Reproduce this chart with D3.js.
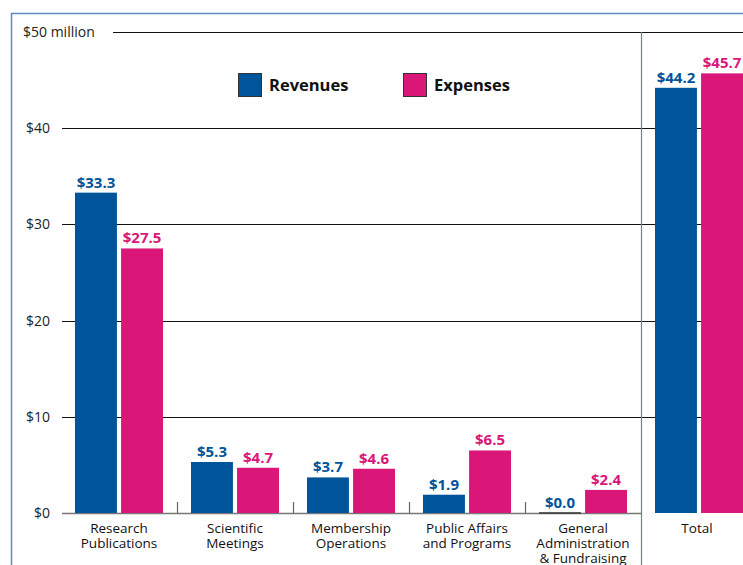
<!DOCTYPE html>
<html><head><meta charset="utf-8">
<script src="https://cdn.jsdelivr.net/npm/d3@7"></script>
<style>body{margin:0;background:#fff}svg{display:block}</style>
</head><body>
<svg id="c" width="743" height="565"></svg>
<script>
const categories = [["Research","Publications"],["Scientific","Meetings"],["Membership","Operations"],["Public Affairs","and Programs"],["General","Administration","& Fundraising"],["Total"]];
const revenues = [33.3, 5.3, 3.7, 1.9, 0.0, 44.2];
const expenses = [27.5, 4.7, 4.6, 6.5, 2.4, 45.7];
const yTicks = [0, 10, 20, 30, 40, 50];
const yTickLabels = ["$0", "$10", "$20", "$30", "$40", "$50 million"];
const seriesNames = ["Revenues", "Expenses"];
const colors = ["#005499", "#DA1679"];

const svg = d3.select("#c");
const font = "'Open Sans', 'Noto Sans', sans-serif";
const y = d3.scaleLinear().domain([0, 50]).range([513, 32]);
const x = d3.scaleBand().domain(d3.range(categories.length)).range([61, 757]).padding(0);
const inner = d3.scaleBand().domain([0,1]).range([0, 88]).paddingInner(0.09);
const groupOff = (x.bandwidth() - 88) / 2;

// outer frame
svg.append("path").attr("d", "M11.5,565 V13.5 H743").attr("fill", "none").attr("stroke", "#5b8cc0").attr("stroke-width", 1.5);

// gridlines + y labels
yTicks.forEach((t, i) => {
  if (t !== 0) {
    const x0 = (t === 50) ? 113 : 62;
    svg.append("line").attr("x1", x0).attr("x2", 743).attr("y1", Math.round(y(t)) + 0.5).attr("y2", Math.round(y(t)) + 0.5)
      .attr("stroke", "#111").attr("stroke-width", 1);
  }
  const lab = svg.append("text").attr("y", y(t) + 5).text(yTickLabels[i])
    .attr("font-family", font).attr("font-size", 14).attr("fill", "#222");
  if (t === 50) lab.attr("x", 23); else lab.attr("x", 50).attr("text-anchor", "end");
});

// total separator
svg.append("line").attr("x1", 641.5).attr("x2", 641.5).attr("y1", y(50)).attr("y2", 565).attr("stroke", "#5a86b5").attr("stroke-width", 1.2);

// baseline
svg.append("line").attr("x1", 62).attr("x2", 641).attr("y1", 513.5).attr("y2", 513.5).attr("stroke", "#777").attr("stroke-width", 1.5);
// separator ticks
for (let i = 1; i < categories.length - 1; i++) {
  svg.append("line").attr("x1", x(i) + 0.5).attr("x2", x(i) + 0.5).attr("y1", 502).attr("y2", 513).attr("stroke", "#666").attr("stroke-width", 1.2);
}

// bars
const series = [revenues, expenses];
series.forEach((vals, s) => {
  const g = svg.append("g");
  vals.forEach((v, i) => {
    const bx = x(i) + groupOff + inner(s);
    if (v === 0) {
      g.append("line").attr("x1", bx).attr("x2", bx + inner.bandwidth()).attr("y1", 513).attr("y2", 513).attr("stroke", "#333").attr("stroke-width", 1.5);
    } else {
      g.append("rect").attr("x", bx).attr("y", y(v)).attr("width", inner.bandwidth()).attr("height", y(0) - y(v)).attr("fill", colors[s]);
    }
    g.append("text").attr("x", bx + inner.bandwidth() / 2).attr("y", y(v) - 5)
      .attr("text-anchor", "middle").attr("font-family", font).attr("font-weight", "bold").attr("font-size", 15)
      .attr("fill", colors[s]).text("$" + v.toFixed(1));
  });
});

// category labels
categories.forEach((lines, i) => {
  const t = svg.append("text").attr("text-anchor", "middle").attr("font-family", font).attr("font-size", 13.5).attr("fill", "#111");
  lines.forEach((l, j) => {
    t.append("tspan").attr("x", x(i) + x.bandwidth() / 2 + (i === categories.length - 1 ? -2 : 0)).attr("y", 533 + j * 15).text(l);
  });
});

// legend
const legX = [238, 403];
seriesNames.forEach((n, s) => {
  svg.append("rect").attr("x", legX[s] + 0.5).attr("y", 73.5).attr("width", 23).attr("height", 23).attr("fill", colors[s]).attr("stroke", "#333").attr("stroke-width", 1);
  svg.append("text").attr("x", legX[s] + 31).attr("y", 91).text(n).attr("font-family", font).attr("font-weight", "bold").attr("font-size", 16.5).attr("fill", "#111");
});
</script>
</body></html>
